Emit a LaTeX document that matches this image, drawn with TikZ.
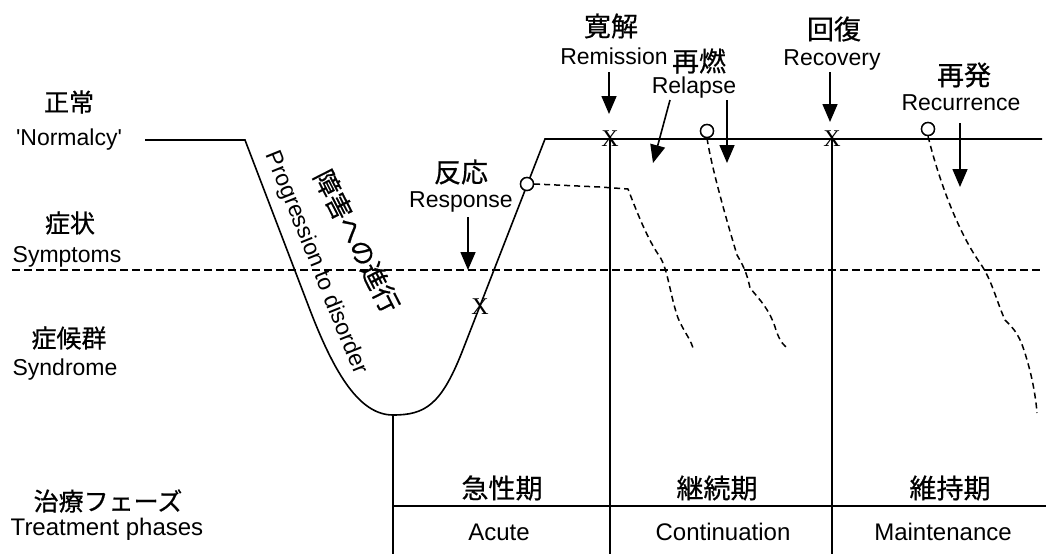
\documentclass[tikz,border=0pt]{standalone}
\usepackage{fontspec}
\setmainfont{Liberation Sans}
\newfontfamily\nq[Ligatures=TeXOff]{Liberation Sans}
\newfontfamily\jp[FakeBold=0.6]{Noto Sans CJK JP}
\newfontfamily\serifx{Liberation Serif}
\usetikzlibrary{arrows.meta}
\begin{document}
\begin{tikzpicture}[x=1pt,y=-1pt,
  mainline/.style={line width=1.6pt},
  thr/.style={line width=1.6pt, dash pattern=on 8pt off 4pt},
  dcurve/.style={line width=1.5pt, dash pattern=on 6pt off 4pt},
  jlab/.style={font=\jp\fontsize{27}{27}\selectfont, inner sep=0pt},
  jlabs/.style={font=\jp\fontsize{25}{25}\selectfont, inner sep=0pt},
  elab/.style={font=\fontsize{23}{23}\selectfont, inner sep=0pt, anchor=base},
  elabb/.style={font=\fontsize{24}{24}\selectfont, inner sep=0pt, anchor=base},
  arr/.style={line width=1.6pt, -{Triangle[width=15pt,length=18pt]}},
  circ/.style={circle, draw, line width=1.4pt, fill=white, minimum size=13pt, inner sep=0pt},
  xmark/.style={font=\serifx\fontsize{24}{24}\selectfont, inner sep=0pt}
]
\useasboundingbox (0,0) rectangle (1046,554);

% left labels
\node[jlabs] (normj) at (69,102) {正常};
\node[elab] (norme) at (69,145) {\nq 'Normalcy'};
\node[jlabs] (sympj) at (70,223) {症状};
\node[elab] (sympe) at (67,262) {Symptoms};
\node[jlabs] (syndj) at (69,338) {症候群};
\node[elab] (synde) at (65,375) {Syndrome};
\node[jlabs] (treatj) at (108,501) {治療フェーズ};
\node[elabb] (treate) at (107,535) {Treatment phases};

% threshold dashed line
\coordinate (thrL) at (12,270);
\coordinate (thrR) at (1042,270);
\draw[thr] (thrL) -- (thrR);

% main course
\coordinate (n0) at (145,140);
\coordinate (n1) at (245,140);
\coordinate (bot) at (393,415);
\coordinate (top) at (545,139);
\coordinate (endR) at (1042,139);
\draw[mainline] (n0) -- (n1) -- (310,310) .. controls (335,375) and (360,415) .. (bot)
  .. controls (425,415) and (441,405) .. (462,352) -- (top) -- (endR);

% phase lines
\coordinate (v1t) at (610,139);
\coordinate (v2t) at (832,139);
\draw[mainline] (bot) -- (393,554);
\draw[mainline] (v1t) -- (610,554);
\draw[mainline] (v2t) -- (832,554);
\coordinate (phL) at (393,506);
\coordinate (phR) at (1046,506);
\draw[mainline] (phL) -- (phR);

% phase labels
\node[jlab] (acj) at (502,488) {急性期};
\node[elabb] (ace) at (499,540) {Acute};
\node[jlab] (coj) at (717,488) {継続期};
\node[elabb] (coe) at (723,540) {Continuation};
\node[jlab] (maj) at (950,488) {維持期};
\node[elabb] (mae) at (943,540) {Maintenance};

% rotated labels
\node[font=\fontsize{23}{23}\selectfont, inner sep=0pt, rotate=-68] (prog) at (316,263) {Progression to disorder};
\node[font=\jp\fontsize{26}{26}\selectfont, inner sep=0pt, rotate=-63] (progj) at (357,241) {障害への進行};

% dashed relapse curves
\node[circ] (c1) at (527,184) {};
\node[circ] (c2) at (707,131) {};
\node[circ] (c3) at (928,129) {};
\draw[dcurve] (c1.east) -- (600,187) -- (628,189) .. controls (638,215) and (648,240) .. (660,257)
  .. controls (668,270) and (670,295) .. (678,318) .. controls (684,332) and (690,338) .. (693,348);
\draw[dcurve] (c2.south) .. controls (712,170) and (728,225) .. (737,255)
  .. controls (745,268) and (748,278) .. (750,288) .. controls (760,300) and (770,310) .. (776,330)
  .. controls (780,342) and (784,346) .. (788,348);
\draw[dcurve] (c3.south) .. controls (940,185) and (960,235) .. (980,263)
  .. controls (992,280) and (996,300) .. (1005,320) .. controls (1015,330) and (1020,335) .. (1027,360)
  .. controls (1033,380) and (1036,400) .. (1037,413);
% redraw circles on top
\node[circ] at (c1) {};
\node[circ] at (c2) {};
\node[circ] at (c3) {};

% X marks
\node[xmark] (x1) at (480,307) {X};
\node[xmark] (x2) at (610,139) {X};
\node[xmark] (x3) at (832,139) {X};

% top labels
\node[jlab] (respj) at (461,172) {反応};
\node[elab] (respe) at (461,207) {Response};
\node[jlab] (remj) at (611,26) {寛解};
\node[elab] (reme) at (614,64) {Remission};
\node[jlab] (relj) at (699,61) {再燃};
\node[elab] (rele) at (694,93) {Relapse};
\node[jlab] (recj) at (834,29) {回復};
\node[elab] (rece) at (832,65) {Recovery};
\node[jlab] (recuj) at (964,75) {再発};
\node[elab] (recue) at (961,110) {Recurrence};

% arrows
\coordinate (a1s) at (468,217); \coordinate (a1e) at (468,270);
\coordinate (a2s) at (609,72);  \coordinate (a2e) at (609,114);
\coordinate (a3s) at (670,100); \coordinate (a3e) at (653,163);
\coordinate (a4s) at (727,100); \coordinate (a4e) at (727,163);
\coordinate (a5s) at (830,72);  \coordinate (a5e) at (830,122);
\coordinate (a6s) at (960,123); \coordinate (a6e) at (960,187);
\draw[arr] (a1s) -- (a1e);
\draw[arr] (a2s) -- (a2e);
\draw[arr] (a3s) -- (a3e);
\draw[arr] (a4s) -- (a4e);
\draw[arr] (a5s) -- (a5e);
\draw[arr] (a6s) -- (a6e);
\end{tikzpicture}
\end{document}
